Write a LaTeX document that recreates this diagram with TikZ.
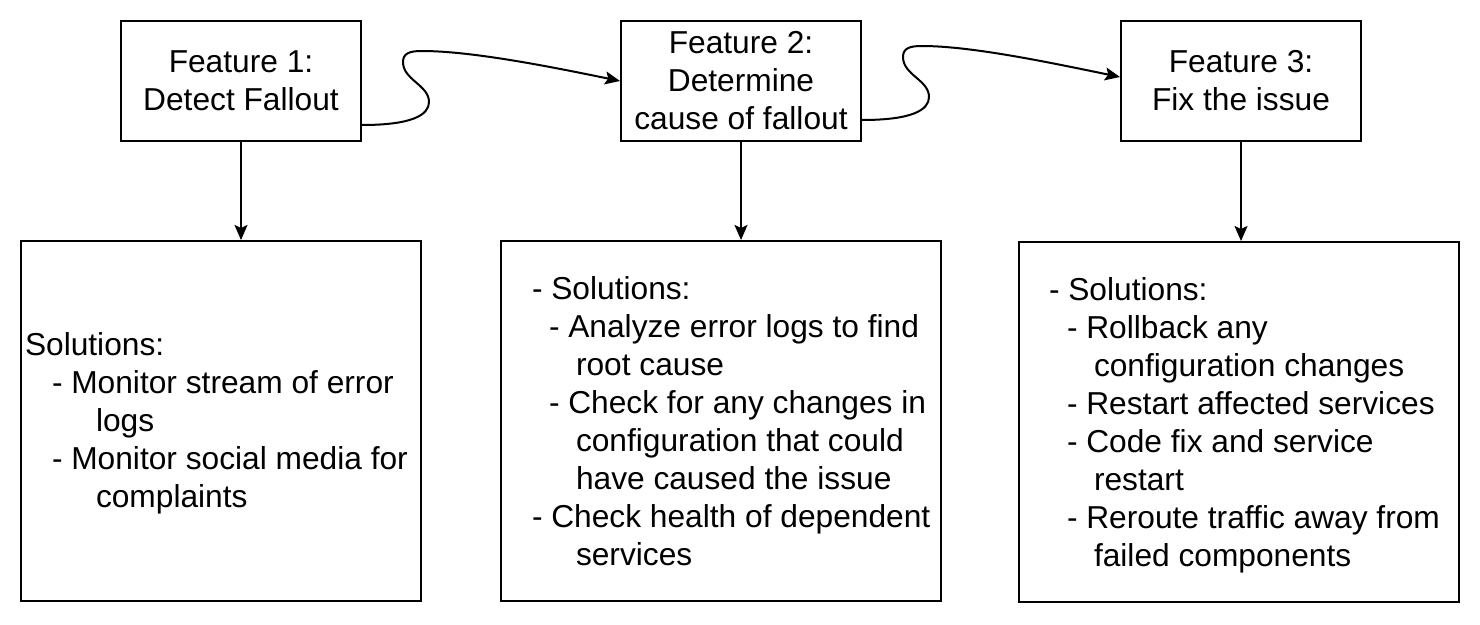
\documentclass[tikz,border=0pt]{standalone}
\usepackage{fontspec}
\setmainfont{Liberation Sans}
\usetikzlibrary{positioning,arrows.meta}

\begin{document}
\begin{tikzpicture}[x=1pt, y=1pt, line width=2pt,
  font=\fontsize{31.7pt}{38pt}\selectfont,
  feat/.style={draw, minimum width=240pt, minimum height=120pt, inner sep=0pt, align=center},
  sol/.style={draw, minimum width=#1, minimum height=360pt, inner sep=0pt},
  list/.style={inner sep=0pt, align=left, anchor=west},
  link/.style={-{Stealth[length=15pt, width=13pt, inset=3pt]}}]
  \useasboundingbox (0,0) rectangle (1480,-624);

  % feature boxes
  \node[feat] (f1) at (241,-81) {Feature 1:\\Detect Fallout};
  \node[feat] (f2) at (741,-81) {Feature 2:\\Determine\\cause of fallout};
  \node[feat] (f3) at (1241,-81) {Feature 3:\\Fix the issue};

  % solution boxes
  \node[sol=400pt] (sol1) at (221,-421) {};
  \node[sol=440pt] (sol2) at (721,-421) {};
  \node[sol=440pt] (sol3) at (1239,-422) {};

  \node[list, right=4pt of sol1.west, yshift=-2pt] (t1) {Solutions:\\
    \hspace*{27pt}- Monitor stream of error\\
    \hspace*{71pt}logs\\
    \hspace*{27pt}- Monitor social media for\\
    \hspace*{71pt}complaints};
  \node[list, right=31pt of sol2.west] (t2) {- Solutions:\\
    \hspace*{17pt}- Analyze error logs to find\\
    \hspace*{44pt}root cause\\
    \hspace*{17pt}- Check for any changes in\\
    \hspace*{44pt}configuration that could\\
    \hspace*{44pt}have caused the issue\\
    - Check health of dependent\\
    \hspace*{44pt}services};
  \node[list, right=30pt of sol3.west, yshift=-3pt] (t3) {- Solutions:\\
    \hspace*{18pt}- Rollback any\\
    \hspace*{45pt}configuration changes\\
    \hspace*{18pt}- Restart affected services\\
    \hspace*{18pt}- Code fix and service\\
    \hspace*{45pt}restart\\
    \hspace*{18pt}- Reroute traffic away from\\
    \hspace*{45pt}failed components};

  % arrows down
  \draw[link] (f1.south) -- (f1.south |- sol1.north);
  \draw[link] (f2.south) -- (f2.south |- sol2.north);
  \draw[link] (f3.south) -- (f3.south |- sol3.north);

  % curly links between features
  \draw[link] ([yshift=-44pt]f1.east) .. controls +(50,0) and +(0,-13) .. ++(67,23)
    .. controls +(0,17) and +(0,-18) .. ++(-26,40)
    .. controls +(0,9) and +(-12,0) .. ++(19,11)
    .. controls +(50,0) and +(-68,14) .. (f2.west);
  \draw[link] ([yshift=-39pt]f2.east) .. controls +(50,0) and +(0,-13) .. ++(67,23)
    .. controls +(0,17) and +(0,-18) .. ++(-26,40)
    .. controls +(0,9) and +(-12,0) .. ++(19,11)
    .. controls +(50,0) and +(-68,14) .. ([yshift=4pt]f3.west);
\end{tikzpicture}
\end{document}
